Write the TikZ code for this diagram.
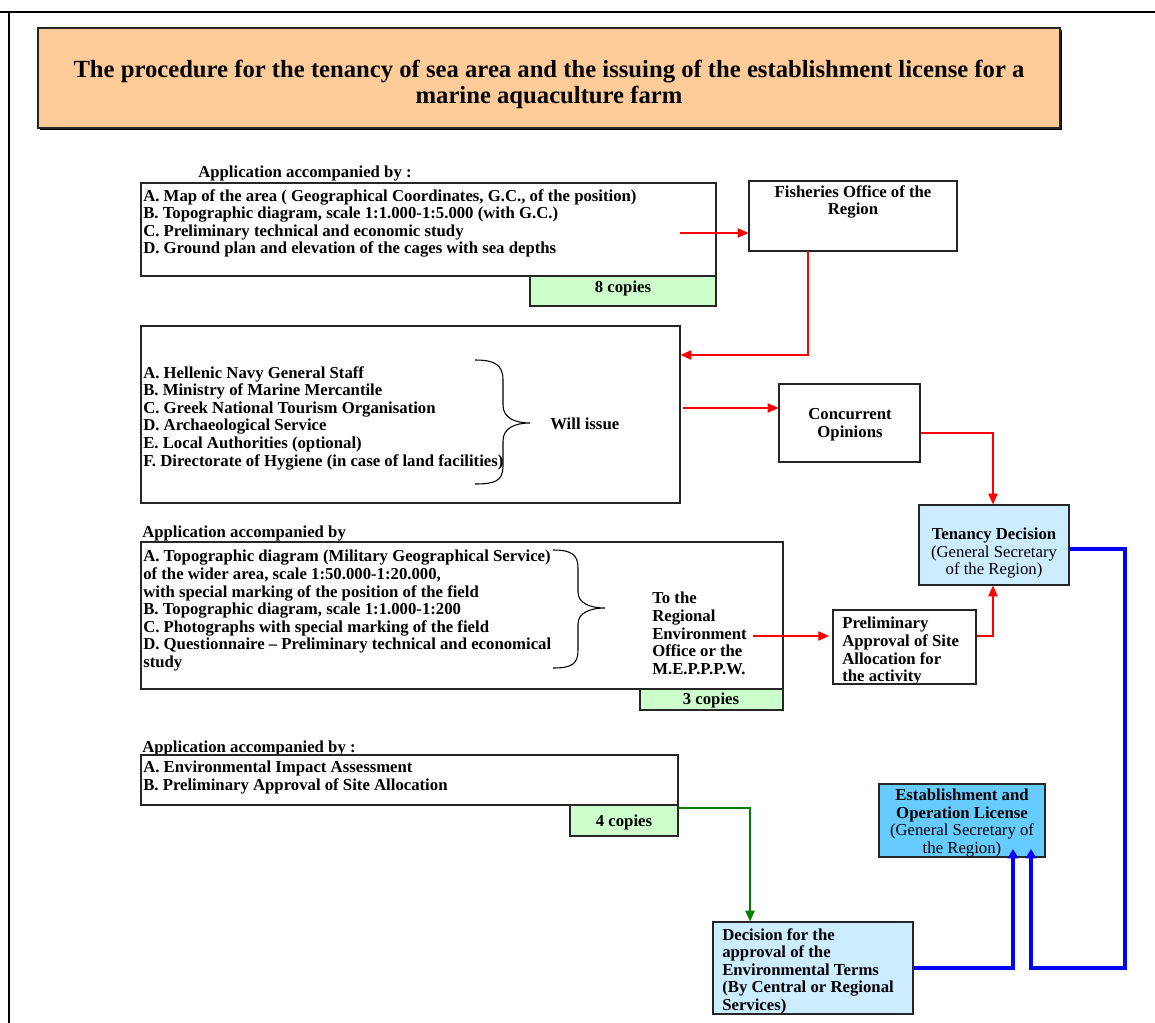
\documentclass[tikz,border=0pt]{standalone}
\usepackage{fontspec}
\setmainfont{Liberation Serif}
\usetikzlibrary{fit,arrows.meta,calc}
\definecolor{peach}{HTML}{FFCC99}
\definecolor{copygreen}{HTML}{CCFFCC}
\definecolor{paleblue}{HTML}{CCECFF}
\definecolor{skyblue}{HTML}{66CCFF}
\definecolor{linegreen}{HTML}{008000}
\tikzset{
  box/.style={draw=black!85, line width=0.9pt, inner sep=0pt, rectangle},
  txt/.style={inner sep=0pt, font=\bfseries\fontsize{12.55}{13.2}\selectfont},
  txtn/.style={inner sep=0pt, font=\fontsize{12.55}{13.2}\selectfont},
  redline/.style={draw=red, line width=0.9pt},
  redarrow/.style={redline, -{Triangle[length=8pt,width=7pt]}},
  greenarrow/.style={draw=linegreen, line width=0.9pt, -{Triangle[length=8pt,width=7pt]}},
  bluearrow/.style={draw=blue, line width=2.8pt, -{Triangle[length=7pt,width=8pt]}},
  bracestyle/.style={draw=black, line width=0.8pt}
}
\begin{document}
\begin{tikzpicture}[x=0.75pt,y=-0.75pt]
\useasboundingbox (0,0) rectangle (1155,1023);
% outer frame
\draw[line width=1.5pt] (0,12) -- (1155,12);
\draw[line width=2.2pt] (9,12) -- (9,1023);

% title
\fill[black] (40,30) rectangle (1062,130);
\node[box, fill=peach, fit={(38,28) (1060,128)}] (title) {};
\node[inner sep=0pt, align=center, font=\bfseries\fontsize{18.5}{19.5}\selectfont] (titletext) at (549,84)
  {The procedure for the tenancy of sea area and the issuing of the establishment license for a\\marine aquaculture farm};

% box 1
\node[txt, anchor=west] (lab1) at (198,174) {Application accompanied by :};
\node[box, fit={(141,183) (716,276)}] (b1) {};
\node[txt, anchor=north west, align=left] (t1) at (143,189)
  {A. Map of the area ( Geographical Coordinates, G.C., of the position)\\
   B. Topographic diagram, scale 1:1.000-1:5.000 (with G.C.)\\
   C. Preliminary technical and economic study\\
   D. Ground plan and elevation of the cages with sea depths};
\node[box, fill=copygreen, fit={(530,276) (716,306)}] (c1) {};
\node[txt] (c1t) at (623,288) {8 copies};

% fisheries
\node[box, fit={(749,181) (957,251)}] (fish) {};
\node[txt, align=center] (fisht) at (853,202) {Fisheries Office of the\\Region};

% box 2
\node[box, fit={(141,326) (680,503)}] (b2) {};
\node[txt, anchor=north west, align=left] (t2) at (143,366)
  {A. Hellenic Navy General Staff\\
   B. Ministry of Marine Mercantile\\
   C. Greek National Tourism Organisation\\
   D. Archaeological Service\\
   E. Local Authorities (optional)\\
   F. Directorate of Hygiene (in case of land facilities)};
\draw[bracestyle] (475,360) .. controls (495,360) and (503,365) .. (503,380) -- (503,405)
  .. controls (503,418) and (515,423) .. (530,423)
  .. controls (515,423) and (503,428) .. (503,441) -- (503,466)
  .. controls (503,481) and (495,484) .. (475,484);
\node[txt, anchor=west] (will) at (550,424) {Will issue};

% concurrent
\node[box, fit={(779,384) (920,462)}] (conc) {};
\node[txt, align=center] (conct) at (850,425) {Concurrent\\Opinions};

% tenancy
\node[box, fill=paleblue, fit={(919,505) (1069,585)}] (ten) {};
\node[txtn, align=center] (tent) at (994,553) {\textbf{Tenancy Decision}\\(General Secretary\\of the Region)};

% box 3
\node[txt, anchor=west] (lab3) at (142,533) {Application accompanied by};
\node[box, fit={(141,542) (783,689)}] (b3) {};
\node[txt, anchor=north west, align=left] (t3) at (143,550)
  {A. Topographic diagram (Military Geographical Service)\\
   of the wider area, scale 1:50.000-1:20.000,\\
   with special marking of the position of the field\\
   B. Topographic diagram, scale 1:1.000-1:200\\
   C. Photographs with special marking of the field\\
   D. Questionnaire -- Preliminary technical and economical\\
   study};
\draw[bracestyle] (553,550) .. controls (572,550) and (578,555) .. (578,568) -- (578,592)
  .. controls (578,603) and (590,608) .. (605,608)
  .. controls (590,608) and (578,613) .. (578,624) -- (578,650)
  .. controls (578,664) and (572,668) .. (553,668);
\node[txt, anchor=north west, align=left] (t3r) at (652,592)
  {To the\\Regional\\Environment\\Office or the\\M.E.P.P.P.W.};
\node[box, fill=copygreen, fit={(640,689) (783,710)}] (c3) {};
\node[txt] (c3t) at (711,700) {3 copies};

% preliminary approval
\node[box, fit={(833,610) (976,684)}] (prel) {};
\node[txt, anchor=north west, align=left] (prelt) at (842,617)
  {Preliminary\\Approval of Site\\Allocation for\\the activity};

% box 4
\node[txt, anchor=west] (lab4) at (142,748) {Application accompanied by :};
\node[box, fit={(141,755) (678,805)}] (b4) {};
\node[txt, anchor=north west, align=left] (t4) at (143,761)
  {A. Environmental Impact Assessment\\
   B. Preliminary Approval of Site Allocation};
\node[box, fill=copygreen, fit={(570,805) (678,836)}] (c4) {};
\node[txt] (c4t) at (624,822) {4 copies};

% establishment
\node[box, fill=skyblue, fit={(879,784) (1045,857)}] (est) {};
\node[txtn, align=center] (estt) at (962,823)
  {\textbf{Establishment and}\\\textbf{Operation License}\\(General Secretary of\\the Region)};

% decision
\node[box, fill=paleblue, fit={(713,922) (913,1014)}] (dec) {};
\node[txt, anchor=north west, align=left] (dect) at (722,928)
  {Decision for the\\approval of the\\Environmental Terms\\(By Central or Regional\\Services)};

% connectors
\coordinate (r1s) at (680,233);
\draw[redarrow] (r1s) -- (r1s -| fish.west);
\coordinate (r2a) at (808,251);
\draw[redarrow] (r2a) |- (b2.east |- 0,355);
\coordinate (r3s) at (683,408);
\draw[redarrow] (r3s) -- (r3s -| conc.west);
\draw[redarrow] (conc.east |- 0,433) -| (ten.north -| 993,0);
\coordinate (r5s) at (753,636);
\draw[redarrow] (r5s) -- (829,636);
\draw[redarrow] (prel.east |- 0,636) -| (ten.south -| 993,0);
\draw[greenarrow] (b4.east |- 0,808) -| (dec.north -| 750,0);
\draw[bluearrow] (ten.east |- 0,549) -- (1125,549) -- (1125,968) -- (1031,968) -- (1031,849);
\draw[bluearrow] (dec.east |- 0,968) -- (1013,968) -- (1013,849);
\end{tikzpicture}
\end{document}
